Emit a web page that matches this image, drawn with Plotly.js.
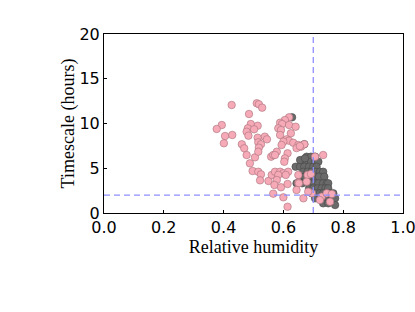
<!DOCTYPE html>
<html>
<head>
<meta charset="utf-8">
<script src="https://cdn.plot.ly/plotly-3.0.1.min.js"></script>
<style>html,body{margin:0;padding:0;background:#fff;}#chart{width:415px;height:312px;}</style>
</head>
<body>
<div id="chart"></div>
<script>
// Series A (pink): relative humidity vs timescale (hours)
const pinkRH = [0.427,0.511,0.518,0.529,0.485,0.394,0.377,0.405,0.429,0.401,
  0.491,0.514,0.481,0.502,0.477,0.483,0.514,0.538,0.545,0.516,
  0.525,0.518,0.461,0.469,0.477,0.505,0.488,0.516,0.497,0.516,
  0.525,0.522,0.550,0.561,0.559,0.566,0.619,0.605,0.589,0.596,
  0.583,0.592,0.589,0.619,0.641,0.625,0.611,0.619,0.600,0.633,
  0.594,0.650,0.659,0.670,0.578,0.572,0.614,0.605,0.603,0.572,
  0.589,0.600,0.616,0.583,0.608,0.578,0.570,0.592,0.614,0.566,
  0.600,0.614,0.650,0.706,0.733,0.667,0.695,0.728,0.650,0.681,
  0.692,0.652,0.678,0.683,0.745,0.762,0.756,0.722,0.644,0.644,0.655];
const pinkTime = [12.07,12.26,12.15,11.77,11.06,9.83,9.39,8.60,8.72,7.79,
  9.94,9.75,9.46,9.35,9.08,8.64,8.41,8.53,8.23,7.90,
  7.68,7.30,7.68,7.23,6.48,6.22,5.55,6.85,4.69,4.61,
  4.32,3.65,3.58,4.25,6.29,6.48,10.69,10.39,10.09,9.94,
  9.46,9.27,8.72,9.83,9.64,8.91,8.23,8.08,7.97,7.85,
  7.60,7.60,7.41,7.68,6.85,6.48,6.67,6.11,5.73,4.61,
  4.61,4.44,4.61,4.25,4.25,3.69,3.13,2.87,3.24,2.16,
  1.75,0.70,3.39,6.29,6.48,1.64,2.20,1.82,4.25,4.25,
  4.36,3.32,3.50,2.38,2.20,2.12,1.26,1.45,2.57,7.25,7.47];
// Series B (grey)
const greyRH = [0.678,0.692,0.706,
  0.661,0.678,0.692,0.706,0.717,
  0.641,0.656,0.670,0.686,0.700,0.711,
  0.667,0.681,0.695,0.708,0.722,0.733,
  0.656,0.672,0.689,0.706,0.719,0.737,
  0.644,0.663,0.689,0.703,0.717,0.733,0.745,0.750,
  0.686,0.700,0.715,0.728,0.741,0.750,
  0.695,0.708,0.722,0.733,0.745,0.756,0.767,
  0.706,0.722,0.739,0.750,0.762,0.773,
  0.733,0.750,0.773,
  0.629,0.670,0.656,0.672];
const greyTime = [6.29,6.29,6.29,
  5.73,5.73,5.73,5.73,5.73,
  5.17,5.17,5.17,5.17,5.17,5.17,
  4.61,4.61,4.61,4.61,4.61,4.61,
  4.06,4.06,4.06,4.06,4.06,4.06,
  3.32,3.32,3.32,3.32,3.32,3.32,3.32,3.32,
  2.76,2.76,2.76,2.76,2.76,2.76,
  2.20,2.20,2.20,2.20,2.20,2.20,2.20,
  1.64,1.64,1.64,1.64,1.64,1.64,
  1.08,1.08,0.89,
  10.69,7.68,5.92,6.11];
const rhThreshold = 0.7;
const timeThreshold = 2;
const xTicks = [0, 0.2, 0.4, 0.6, 0.8, 1.0];
const yTicks = [0, 5, 10, 15, 20];

const dash = {color: '#8f8fff', width: 1.3, dash: '6px,4px'};
const traces = [
  {x: greyRH, y: greyTime, mode: 'markers', type: 'scatter', hoverinfo: 'skip',
   marker: {size: 7.5, color: '#6a6a6a', line: {color: '#474747', width: 0.6}}},
  {x: pinkRH, y: pinkTime, mode: 'markers', type: 'scatter', hoverinfo: 'skip',
   marker: {size: 7.5, color: '#f6aab8', line: {color: '#a87078', width: 0.6}}},
  {x: [rhThreshold, rhThreshold], y: [0, 20], mode: 'lines', line: dash, hoverinfo: 'skip'},
  {x: [0, 1], y: [timeThreshold, timeThreshold], mode: 'lines', line: dash, hoverinfo: 'skip'}
];
const axisCommon = {
  showgrid: false, zeroline: false, showline: true, mirror: true,
  linecolor: '#000', linewidth: 1, ticks: 'inside', ticklen: 3, tickcolor: '#000',
  ticklabeloverflow: 'allow',
  tickfont: {family: 'DejaVu Sans', size: 16, color: '#000'}
};
const layout = {
  width: 415, height: 312,
  margin: {l: 104, r: 12, t: 34, b: 99},
  paper_bgcolor: '#fff', plot_bgcolor: '#fff',
  showlegend: false,
  xaxis: Object.assign({}, axisCommon, {
    range: [0, 1.0001], tickvals: xTicks, ticktext: xTicks.map(v => v.toFixed(1)),
    title: {text: 'Relative humidity', standoff: 1,
      font: {family: 'Liberation Serif', size: 18, color: '#000'}}
  }),
  yaxis: Object.assign({}, axisCommon, {
    range: [0, 20], tickvals: yTicks, ticktext: yTicks.map(String),
    title: {text: 'Timescale (hours)', standoff: 0,
      font: {family: 'Liberation Serif', size: 18, color: '#000'}}
  })
};
Plotly.newPlot('chart', traces, layout, {staticPlot: true, displayModeBar: false});
</script>
</body>
</html>
